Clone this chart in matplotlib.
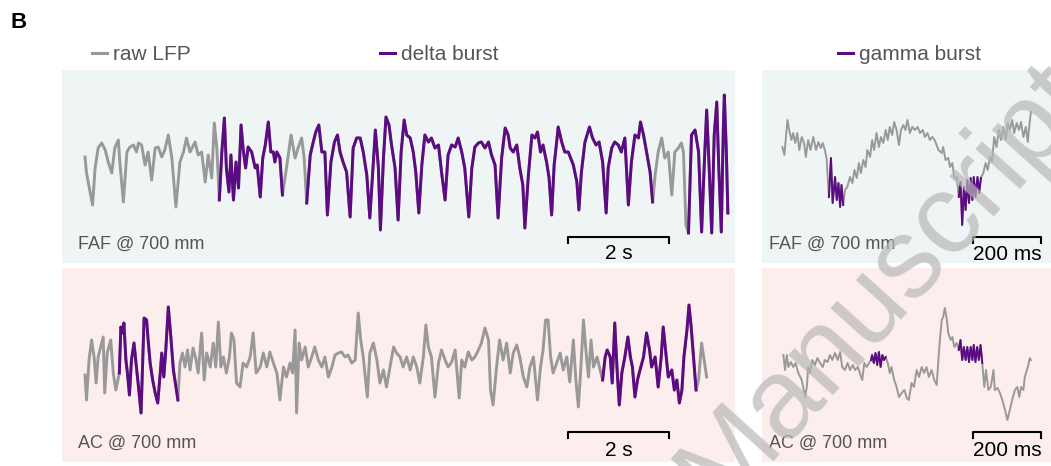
import numpy as np
import matplotlib.pyplot as plt
from matplotlib.lines import Line2D

plt.rcParams['font.family'] = ['Liberation Sans', 'DejaVu Sans']

W, H = 1051, 466
GRAY = '#999999'
PURPLE = '#5c0b82'
BG_FAF = '#eff5f5'
BG_AC = '#fdeeee'
TXT = '#555555'

# long recordings: (time s, amplitude a.u.)
faf_long = [(0.00,3),(0.03,-13),(0.15,-45),(0.20,-8),(0.26,12),(0.33,17),(0.40,10),(0.46,-2),(0.53,-13),(0.59,12),
    (0.66,20),(0.69,-2),(0.76,-42),(0.83,8),(0.89,13),(0.96,15),(1.02,8),(1.06,17),(1.12,15),(1.19,-5),(1.25,8),
    (1.32,-20),(1.39,12),(1.45,13),(1.52,3),(1.58,10),(1.65,25),(1.72,2),(1.80,-47),(1.88,-2),(1.95,8),(2.01,22),
    (2.08,8),(2.18,18),(2.24,5),(2.31,8),(2.38,-22),(2.44,5),(2.51,-18),(2.56,37),(2.61,12),(2.66,-40),(2.71,8),
    (2.76,42),(2.80,-8),(2.85,-32),(2.89,5),(2.94,-40),(2.99,-2),(3.04,-28),(3.09,35),(3.13,12),(3.18,-8),(3.23,13),
    (3.30,8),(3.37,-8),(3.41,-5),(3.47,-37),(3.52,2),(3.57,15),(3.63,38),(3.68,8),(3.73,8),(3.76,-2),(3.80,8),
    (3.86,2),(3.91,-35),(3.99,-8),(4.08,25),(4.16,2),(4.22,12),(4.29,22),(4.34,2),(4.39,-43),(4.46,5),(4.52,18),
    (4.57,28),(4.63,35),(4.69,8),(4.75,8),(4.80,-55),(4.87,-2),(4.94,18),(5.00,25),(5.05,8),(5.11,-2),(5.18,-12),
    (5.25,-57),(5.31,12),(5.38,22),(5.45,22),(5.51,8),(5.58,-15),(5.64,-58),(5.69,-18),(5.75,30),(5.81,-8),
    (5.85,-70),(5.91,2),(5.96,43),(6.02,35),(6.07,15),(6.14,-8),(6.20,-60),(6.26,8),(6.32,40),(6.37,25),(6.44,22),
    (6.50,8),(6.55,-12),(6.61,-53),(6.67,-5),(6.73,25),(6.80,18),(6.86,22),(6.93,12),(7.00,15),(7.06,-12),
    (7.13,-40),(7.19,5),(7.26,15),(7.33,13),(7.39,22),(7.46,8),(7.52,-8),(7.60,-57),(7.66,-8),(7.72,13),(7.79,17),
    (7.85,18),(7.92,12),(7.99,18),(8.05,5),(8.12,-5),(8.18,-58),(8.25,2),(8.32,32),(8.38,25),(8.42,12),(8.48,8),
    (8.55,15),(8.61,-8),(8.67,-25),(8.71,-68),(8.78,-15),(8.85,25),(8.91,22),(8.96,28),(9.02,8),(9.07,15),
    (9.14,-2),(9.19,-18),(9.24,-55),(9.29,-5),(9.34,18),(9.37,33),(9.44,18),(9.50,8),(9.57,8),(9.67,-5),
    (9.74,-22),(9.78,-50),(9.83,-12),(9.90,18),(9.99,33),(10.05,22),(10.12,15),(10.18,18),(10.25,-2),(10.32,-53),
    (10.36,-8),(10.43,12),(10.49,18),(10.56,15),(10.62,8),(10.69,22),(10.76,-45),(10.82,-2),(10.89,25),(10.96,22),
    (11.00,38),(11.06,25),(11.12,8),(11.19,-12),(11.24,-42),(11.29,-15),(11.35,8),(11.42,22),(11.48,2),(11.55,8),
    (11.62,-35),(11.68,8),(11.75,12),(11.81,17),(11.85,8),(11.90,-65),(11.95,-73),(12.01,25),(12.08,30),(12.15,8),
    (12.21,-72),(12.26,-8),(12.31,50),(12.36,-8),(12.41,-73),(12.46,25),(12.51,58),(12.55,-8),(12.60,-72),
    (12.64,32),(12.66,65),(12.70,8),(12.73,-53)]
faf_delta = [(2.62, 3.92), (4.38, 11.25), (11.93, 12.73)]

ac_long = [(0.00,-10),(0.03,-35),(0.08,5),(0.13,25),(0.18,8),(0.22,-18),(0.26,8),(0.31,18),(0.36,28),(0.39,-28),
    (0.44,12),(0.51,25),(0.56,-8),(0.61,-25),(0.68,-8),(0.71,38),(0.75,32),(0.77,42),(0.81,5),(0.84,-8),(0.88,-30),
    (0.92,5),(0.97,22),(1.01,2),(1.06,-22),(1.11,-48),(1.17,47),(1.22,45),(1.25,25),(1.29,2),(1.34,-15),(1.39,-28),
    (1.44,-38),(1.49,-8),(1.52,12),(1.56,-12),(1.60,15),(1.65,58),(1.70,28),(1.75,-5),(1.84,-35),(1.88,2),(1.93,12),
    (1.98,-2),(2.03,15),(2.08,-5),(2.14,17),(2.20,5),(2.24,-8),(2.31,32),(2.36,-15),(2.41,12),(2.48,-2),(2.54,22),
    (2.59,-2),(2.64,43),(2.69,-2),(2.74,8),(2.80,-8),(2.86,8),(2.90,32),(2.95,25),(3.00,-18),(3.07,-22),(3.13,2),
    (3.20,-2),(3.27,8),(3.33,32),(3.39,-8),(3.47,-2),(3.53,12),(3.60,-2),(3.66,13),(3.73,2),(3.80,-8),(3.86,-35),
    (3.93,-2),(3.99,-12),(4.06,2),(4.11,-8),(4.16,35),(4.19,-48),(4.24,22),(4.29,5),(4.36,18),(4.42,-2),(4.49,8),
    (4.55,18),(4.62,5),(4.69,-2),(4.75,8),(4.82,-12),(4.89,-2),(4.95,10),(5.02,12),(5.08,13),(5.15,8),(5.21,10),
    (5.28,2),(5.35,5),(5.41,52),(5.46,25),(5.51,8),(5.59,-32),(5.64,12),(5.71,22),(5.78,5),(5.84,-18),(5.91,-5),
    (5.97,-22),(6.04,-2),(6.11,18),(6.17,12),(6.24,8),(6.30,-2),(6.37,8),(6.44,-5),(6.50,8),(6.57,-2),(6.63,-18),
    (6.70,8),(6.75,40),(6.80,18),(6.86,8),(6.93,-32),(7.00,2),(7.06,15),(7.13,5),(7.19,-2),(7.26,3),(7.33,15),
    (7.41,-33),(7.46,5),(7.52,-2),(7.59,13),(7.66,5),(7.72,8),(7.79,15),(7.85,22),(7.92,37),(7.99,25),(8.03,-25),
    (8.08,-40),(8.15,-2),(8.21,25),(8.28,5),(8.35,22),(8.42,-8),(8.48,12),(8.55,20),(8.61,8),(8.68,-12),(8.75,-22),
    (8.81,-2),(8.88,8),(8.96,-35),(9.02,-2),(9.07,15),(9.12,45),(9.17,45),(9.22,8),(9.27,-8),(9.34,2),(9.41,12),
    (9.47,-5),(9.54,8),(9.60,-17),(9.67,25),(9.72,-15),(9.77,-42),(9.82,-2),(9.87,45),(9.93,8),(9.97,-12),
    (10.02,25),(10.07,-2),(10.14,8),(10.20,-5),(10.25,-15),(10.30,8),(10.34,15),(10.40,8),(10.44,-18),(10.49,42),
    (10.54,-8),(10.58,-40),(10.63,-8),(10.69,8),(10.75,28),(10.80,8),(10.84,-2),(10.89,-32),(10.94,-15),
    (10.99,-5),(11.06,8),(11.12,32),(11.18,15),(11.22,-2),(11.29,8),(11.35,-22),(11.41,8),(11.45,38),(11.51,8),
    (11.55,-12),(11.62,-5),(11.67,-25),(11.72,-15),(11.77,-38),(11.82,-25),(11.86,8),(11.92,35),(11.96,60),
    (12.00,40),(12.05,8),(12.10,-25),(12.15,-15),(12.21,22),(12.26,5),(12.31,-12)]
ac_delta = [(0.66, 1.85), (10.25, 12.10)]

# short zoom-ins: (time ms, amplitude a.u.)
faf_short = [(1,3),(7,-5),(16,30),(21,20),(28,10),(33,17),(39,7),(45,17),(51,0),(58,13),(65,7),(70,-7),(77,10),
    (84,0),(92,13),(100,0),(107,8),(114,2),(120,7),(126,0),(131,-8),(138,-47),(144,-8),(149,-53),(156,-27),
    (161,-50),(166,-33),(171,-57),(175,-35),(180,-55),(185,-40),(192,-37),(200,-27),(207,-33),(213,-20),(220,-28),
    (226,-13),(232,-23),(239,-10),(246,-17),(251,0),(259,-7),(265,10),(271,0),(278,17),(285,3),(291,13),(298,7),
    (305,20),(311,10),(317,23),(324,15),(330,28),(337,20),(344,5),(350,20),(357,25),(363,20),(369,30),(376,17),
    (383,23),(391,20),(399,23),(406,17),(414,20),(420,13),(428,17),(435,10),(442,13),(449,10),(460,0),(470,-3),
    (474,3),(481,-10),(489,-8),(494,-17),(501,-13),(507,-28),(514,-27),(520,-47),(525,-32),(530,-75),(535,-37),
    (540,-60),(545,-30),(550,-53),(555,-28),(560,-50),(564,-27),(569,-47),(575,-27),(580,-43),(585,-28),(592,-23),
    (599,-13),(605,-20),(612,-7),(618,-12),(624,13),(631,3),(638,20),(644,10),(651,23),(658,10),(664,27),(670,20),
    (677,30),(683,17),(690,27),(697,20),(703,28),(710,13),(717,23),(723,8),(726,20),(732,38)]
faf_gamma = [(134, 182), (515, 586)]

ac_short = [(4,10),(9,-5),(14,10),(19,-2),(26,3),(33,-2),(40,2),(48,-8),(58,-15),(68,-32),(73,-22),(77,-2),(82,-8),
    (89,5),(97,0),(104,7),(112,2),(120,-2),(126,5),(134,3),(141,10),(148,5),(156,12),(164,5),(171,13),(177,-2),
    (185,-5),(193,2),(200,-5),(208,0),(215,-5),(223,-2),(229,-8),(236,-15),(242,2),(249,-2),(256,2),(262,5),
    (265,10),(270,2),(275,12),(280,0),(285,13),(290,-2),(295,10),(300,5),(305,8),(311,2),(317,-8),(322,-2),
    (330,-15),(337,-22),(344,-32),(352,-28),(360,-25),(367,-33),(373,-35),(381,-18),(388,-22),(396,-5),(403,-12),
    (411,-2),(418,-8),(425,-2),(432,-12),(440,-5),(448,-15),(455,-20),(460,5),(465,28),(470,45),(474,48),(479,57),
    (485,45),(489,32),(496,25),(501,28),(507,18),(514,22),(520,15),(525,25),(530,5),(535,18),(540,5),(545,18),
    (550,3),(555,18),(560,5),(564,20),(569,3),(574,18),(579,5),(584,20),(589,2),(595,-22),(600,-5),(607,-25),
    (614,-22),(622,-5),(626,-25),(634,-23),(641,-28),(648,-35),(656,-45),(663,-55),(670,-45),(677,-35),(685,-25),
    (692,-22),(698,-32),(703,-22),(710,-25),(714,-12),(723,-2),(729,7),(732,5)]
ac_gamma = [(260, 306), (517, 590)]


def px_box(x0, y0, x1, y1):
    return [x0 / W, 1 - y1 / H, (x1 - x0) / W, (y1 - y0) / H]


def trace_panel(box, data, bursts, bg, xlim, ylim, lw, bar, label):
    ax = fig.add_axes(px_box(*box))
    ax.set_facecolor(bg)
    for s in ax.spines.values():
        s.set_visible(False)
    ax.set_xticks([])
    ax.set_yticks([])
    t, v = np.array(data, dtype=float).T
    ax.plot(t, v, color=GRAY, lw=lw, solid_joinstyle='round')
    for a, b in bursts:
        m = (t >= a) & (t <= b)
        ax.plot(t[m], v[m], color=PURPLE, lw=lw, solid_joinstyle='round')
    b0, blen, by, blab, btxt = bar
    ax.plot([b0, b0, b0 + blen, b0 + blen], [by - 6, by, by, by - 6], color='black', lw=1.5)
    ax.text(b0 + blen / 2, blab, btxt, ha='center', va='center', fontsize=15)
    ax.text(0.024, 0.095, label, transform=ax.transAxes, ha='left', va='center',
            fontsize=13, color=TXT)
    ax.set_xlim(*xlim)
    ax.set_ylim(*ylim)
    return ax


fig = plt.figure(figsize=(W / 100, H / 100), dpi=100)

# long panels: t=0 at x=85px, 50.5 px per second
lx = ((62 - 85) / 50.5, (735 - 85) / 50.5)
trace_panel((62, 70, 735, 263), faf_long, faf_delta, BG_FAF, lx, (-103, 90), 2.1,
            ((568 - 85) / 50.5, 2, -77, -94, '2 s'), 'FAF @ 700 mm')
trace_panel((62, 268, 735, 462), ac_long, ac_delta, BG_AC, lx, (-97, 97), 2.1,
            ((568 - 85) / 50.5, 2, -67, -86, '2 s'), 'AC @ 700 mm')

# short panels: t=0 at x=782px, 0.34 px per ms
rx = ((762 - 782) / 0.34, (1051 - 782) / 0.34)
trace_panel((762, 70, 1051, 263), faf_short, faf_gamma, BG_FAF, rx, (-113, 80), 1.4,
            ((973 - 782) / 0.34, 200, -87, -104, '200 ms'), 'FAF @ 700 mm')
trace_panel((762, 268, 1051, 462), ac_short, ac_gamma, BG_AC, rx, (-97, 97), 1.4,
            ((973 - 782) / 0.34, 200, -67, -85, '200 ms'), 'AC @ 700 mm')

fig.text(10 / W, 1 - 28 / H, 'B', fontsize=16, fontweight='bold', ha='left', va='baseline')

legend = [('raw LFP', GRAY, 92), ('delta burst', PURPLE, 380), ('gamma burst', PURPLE, 838)]
for name, col, x0 in legend:
    fig.add_artist(Line2D([x0 / W, (x0 + 15) / W], [1 - 53 / H, 1 - 53 / H], color=col, lw=2.2))
    fig.text((x0 + 21) / W, 1 - 60 / H, name, fontsize=15, color=TXT, ha='left', va='baseline')

fig.text(885 / W, 1 - 285 / H, 'Manuscript', rotation=48, rotation_mode='anchor', fontsize=82,
         color='#b8b8b8', alpha=0.7, ha='center', va='center', zorder=10)

fig.savefig('out.png', dpi=100)
